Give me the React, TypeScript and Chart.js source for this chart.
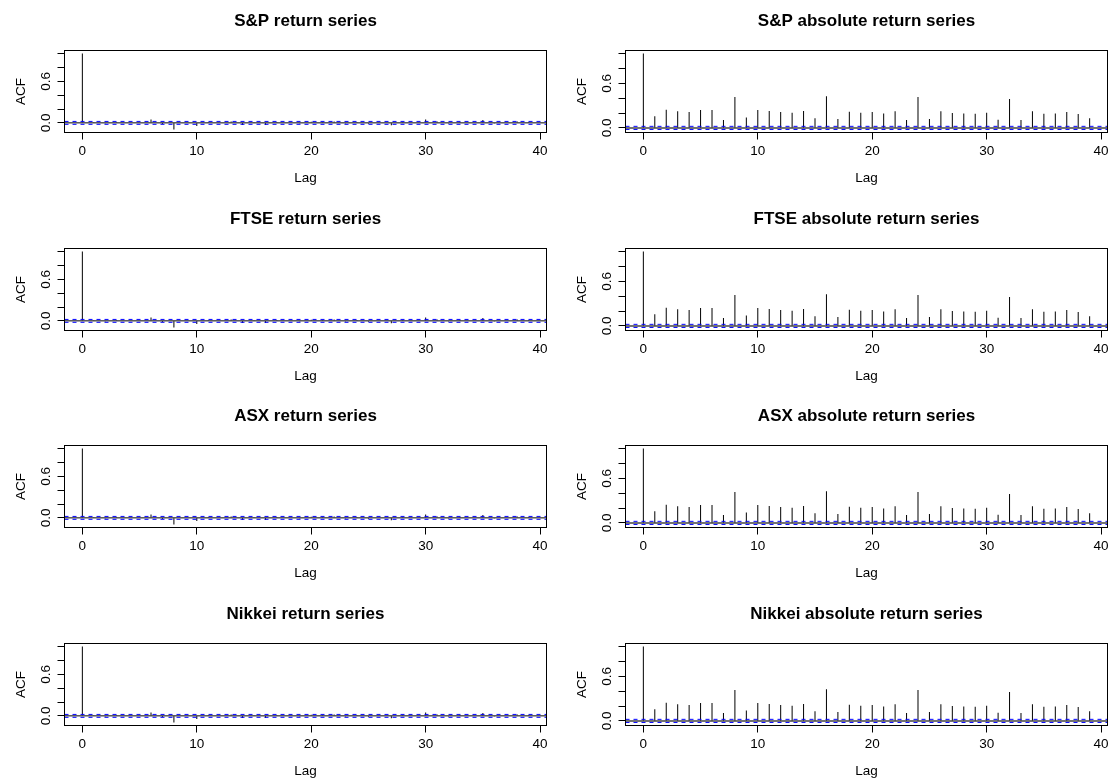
import React, { useEffect, useRef } from "react";
import { Chart, registerables } from "chart.js";

Chart.register(...registerables);

// ---- data ----
const markets = ["S&P", "FTSE", "ASX", "Nikkei"];
const lags = [0, 1, 2, 3, 4, 5, 6, 7, 8, 9, 10, 11, 12, 13, 14, 15, 16, 17, 18, 19, 20, 21, 22, 23, 24, 25, 26, 27, 28, 29, 30, 31, 32, 33, 34, 35, 36, 37, 38, 39];
const returnAcf = [1.0, 0.012, -0.01, 0.006, 0.01, -0.006, 0.05, -0.015, -0.095, 0.01, -0.045, 0.005, 0.01, 0.02, -0.03, 0.012, -0.03, 0.005, 0.01, -0.01, 0.015, 0.005, 0.02, -0.01, 0.005, -0.012, 0.01, -0.035, 0.005, 0.01, 0.05, 0.02, -0.01, 0.005, 0.01, 0.04, -0.01, 0.01, 0.02, 0.005];
const absReturnAcf = [1.0, 0.155, 0.245, 0.223, 0.213, 0.24, 0.24, 0.105, 0.417, 0.141, 0.24, 0.227, 0.213, 0.204, 0.227, 0.128, 0.427, 0.118, 0.218, 0.204, 0.213, 0.195, 0.223, 0.105, 0.417, 0.118, 0.223, 0.2, 0.195, 0.19, 0.204, 0.109, 0.39, 0.105, 0.223, 0.19, 0.195, 0.213, 0.186, 0.128];
const confLimit = 0.021;
const xTickValues = [0, 10, 20, 30, 40];
const yTickValues = [0, 0.2, 0.4, 0.6, 0.8, 1.0];
const yLabelValues = [0, 0.6];
const xRange = [-1.56, 40.56];
const returnYRange = [-0.139, 1.044];
const absYRange = [-0.062, 1.041];

const FONT = '"Liberation Sans", Arial, Helvetica, sans-serif';
const rowTops = [0, 198, 395, 593];
const colLefts = [0, 561];
const colWidths = [556, 551];
const CANVAS_H = 187;
const BOX = { left: 64.5, top: 50.5, right: 546.5, bottom: 132.5 };

type PanelProps = {
  title: string;
  values: number[];
  yRange: number[];
  zeroColor: string;
  zeroWidth: number;
  left: number;
  top: number;
  width: number;
  height: number;
};

function AcfPanel(p: PanelProps) {
  const ref = useRef<HTMLCanvasElement>(null);
  useEffect(() => {
    const canvas = ref.current!;
    const textPlugin = {
      id: "rtext",
      afterDraw(chart: any) {
        const { ctx, chartArea, scales } = chart;
        ctx.save();
        ctx.strokeStyle = "#000";
        ctx.lineWidth = 1;
        ctx.strokeRect(chartArea.left, chartArea.top, chartArea.right - chartArea.left, chartArea.bottom - chartArea.top);
        ctx.fillStyle = "#000";
        const cx = (chartArea.left + chartArea.right) / 2;
        ctx.textAlign = "center";
        ctx.textBaseline = "alphabetic";
        ctx.font = `bold 17px ${FONT}`;
        ctx.fillText(p.title, cx, 26);
        ctx.font = `13.5px ${FONT}`;
        xTickValues.forEach((v) => {
          ctx.fillText(String(v), scales.x.getPixelForValue(v), chartArea.bottom + 22.5);
        });
        ctx.fillText("Lag", cx, chartArea.bottom + 49.5);
        yLabelValues.forEach((v) => {
          ctx.save();
          ctx.translate(chartArea.left - 14.5, scales.y.getPixelForValue(v));
          ctx.rotate(-Math.PI / 2);
          ctx.fillText(v.toFixed(1), 0, 0);
          ctx.restore();
        });
        ctx.save();
        ctx.translate(24.8, (chartArea.top + chartArea.bottom) / 2);
        ctx.rotate(-Math.PI / 2);
        ctx.fillText("ACF", 0, 0);
        ctx.restore();
        ctx.restore();
      },
    };
    const gridOpts = {
      display: true,
      offset: false,
      drawOnChartArea: false,
      drawTicks: true,
      tickLength: 7,
      color: "#000",
      lineWidth: 1,
    };
    const xAxisH = 20;
    const chart = new Chart(canvas, {
      type: "bar",
      data: {
        datasets: [
          {
            type: "line",
            data: [
              { x: xRange[0], y: confLimit },
              { x: xRange[1], y: confLimit },
            ],
            borderColor: "#0000ff",
            borderWidth: 1,
            borderDash: [4, 4],
            pointRadius: 0,
            fill: false,
            order: 1,
          },
          {
            type: "line",
            data: [
              { x: xRange[0], y: -confLimit },
              { x: xRange[1], y: -confLimit },
            ],
            borderColor: "#0000ff",
            borderWidth: 1,
            borderDash: [4, 4],
            pointRadius: 0,
            fill: false,
            order: 1,
          },
          {
            type: "line",
            data: [
              { x: xRange[0], y: 0 },
              { x: xRange[1], y: 0 },
            ],
            borderColor: p.zeroColor,
            borderWidth: p.zeroWidth,
            pointRadius: 0,
            fill: false,
            order: 2,
          },
          {
            type: "bar",
            data: lags.map((l, i) => ({ x: l, y: p.values[i] })),
            backgroundColor: "#000",
            borderWidth: 0,
            barThickness: 1,
            inflateAmount: 0,
            order: 3,
          },
        ],
      } as any,
      options: {
        responsive: false,
        animation: false,
        events: [],
        layout: {
          padding: {
            top: BOX.top,
            left: 0,
            right: p.width - BOX.right,
            bottom: p.height - BOX.bottom - xAxisH,
          },
        },
        plugins: {
          legend: { display: false },
          tooltip: { enabled: false },
          title: { display: false },
        },
        scales: {
          x: {
            type: "linear",
            min: xRange[0],
            max: xRange[1],
            offset: false,
            bounds: "data",
            afterBuildTicks: (s: any) => {
              s.ticks = xTickValues.map((v) => ({ value: v }));
            },
            afterFit: (s: any) => {
              s.height = xAxisH;
            },
            ticks: { display: false },
            grid: gridOpts,
            border: { display: false },
          },
          y: {
            type: "linear",
            min: p.yRange[0],
            max: p.yRange[1],
            bounds: "data",
            afterBuildTicks: (s: any) => {
              s.ticks = yTickValues.map((v) => ({ value: v }));
            },
            afterFit: (s: any) => {
              s.width = BOX.left;
            },
            ticks: { display: false },
            grid: gridOpts,
            border: { display: false },
          },
        },
      } as any,
      plugins: [textPlugin],
    });
    return () => chart.destroy();
  }, []);
  return (
    <canvas
      ref={ref}
      width={p.width}
      height={p.height}
      style={{ position: "absolute", left: p.left, top: p.top, width: p.width, height: p.height, display: "block" }}
    />
  );
}

export default function App() {
  const panels: PanelProps[] = [];
  markets.forEach((m, r) => {
    panels.push({
      title: `${m} return series`,
      values: returnAcf,
      yRange: returnYRange,
      zeroColor: "#000",
      zeroWidth: 1,
      left: colLefts[0],
      top: rowTops[r],
      width: colWidths[0],
      height: CANVAS_H,
    });
    panels.push({
      title: `${m} absolute return series`,
      values: absReturnAcf,
      yRange: absYRange,
      zeroColor: "rgba(0,0,0,0.55)",
      zeroWidth: 2,
      left: colLefts[1],
      top: rowTops[r],
      width: colWidths[1],
      height: CANVAS_H,
    });
  });
  return (
    <div style={{ position: "absolute", left: 0, top: 0, width: 1112, height: 780, overflow: "hidden", background: "#fff" }}>
      {panels.map((p, i) => (
        <AcfPanel key={i} {...p} />
      ))}
    </div>
  );
}
